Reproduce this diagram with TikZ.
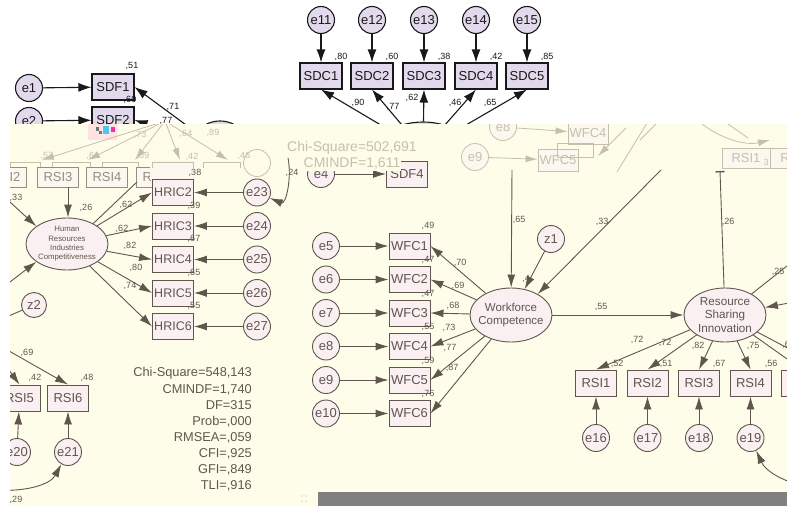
\documentclass[tikz,border=0pt]{standalone}
\usepackage{fontspec}
\setmainfont{Liberation Sans}
\usetikzlibrary{arrows.meta,shapes.geometric}
\definecolor{cream}{RGB}{254,253,234}
\definecolor{dk}{RGB}{96,86,78}
\definecolor{pk}{RGB}{250,240,242}
\definecolor{lav}{RGB}{226,218,236}
\definecolor{ink}{RGB}{25,25,25}
\definecolor{fd}{RGB}{200,190,172}
\definecolor{fdfill}{RGB}{252,248,240}
\definecolor{md}{RGB}{150,140,128}
\definecolor{barg}{RGB}{128,128,128}
\tikzset{
  fs/.style={font={\fontsize{#1}{#1}\selectfont}},
  tcirc/.style={circle,draw=ink,fill=lav,line width=1.1pt,minimum size=27pt,inner sep=0pt,text=ink,fs=13},
  tbox/.style={rectangle,draw=ink,fill=lav,line width=1.1pt,minimum width=42pt,minimum height=26pt,inner sep=0pt,text=ink,fs=13},
  tell/.style={ellipse,draw=ink,fill=lav,line width=1.1pt,inner sep=0pt},
  tarr/.style={draw=ink,line width=1.1pt,-{Latex[length=13pt,width=9pt]}},
  tlab/.style={fs=9,inner sep=0pt,text=ink},
  bcirc/.style={circle,draw=dk,fill=pk,line width=0.9pt,minimum size=27pt,inner sep=0pt,text=dk,fs=13},
  bbox/.style={rectangle,draw=dk,fill=pk,line width=0.9pt,minimum width=41pt,minimum height=26pt,inner sep=0pt,text=dk,fs=13},
  bell/.style={ellipse,draw=dk,fill=pk,line width=0.9pt,inner sep=0pt},
  barr/.style={draw=dk,line width=0.9pt,-{Latex[length=13pt,width=8pt]}},
  bline/.style={draw=dk,line width=0.9pt},
  blab/.style={fs=9,inner sep=0pt,text=dk},
  mbox/.style={rectangle,draw=md,fill=fdfill,line width=0.8pt,minimum width=41pt,minimum height=20pt,inner sep=0pt,text=md,fs=13},
  fcirc/.style={circle,draw=fd,fill=fdfill,line width=0.8pt,minimum size=27pt,inner sep=0pt,text=fd,fs=13},
  fbox/.style={rectangle,draw=fd,fill=fdfill,line width=0.8pt,minimum width=40pt,minimum height=22pt,inner sep=0pt,text=fd,fs=13},
  farr/.style={draw=fd,line width=0.8pt,-{Latex[length=12pt,width=7pt]}},
  fline/.style={draw=fd,line width=0.8pt},
  flab/.style={fs=9,inner sep=0pt,text=fd},
  chitxt/.style={fs=14,inner sep=1pt,text=fd,fill=cream},
}
\begin{document}
\begin{tikzpicture}[x=1pt,y=-1pt]
\useasboundingbox (0,0) rectangle (787,506);
\fill[white] (0,0) rectangle (787,506);
% ---------------- top (white) diagram ----------------
\node[tell,minimum width=60pt,minimum height=58pt] (sdf) at (220,150) {};
\node[tcirc] (e1) at (29,88) {e1};
\node[tcirc] (e2) at (29,121) {e2};
\node[tbox] (sdf1) at (113,87) {SDF1};
\node[tbox] (sdf2) at (113,120) {SDF2};
\draw[tarr] (e1) -- (sdf1);
\draw[tarr] (e2) -- (sdf2);
\draw[tarr] (sdf) -- (sdf1.east);
\draw[tarr] (sdf) -- (sdf2.east);
\node[tlab] (t51) at (132,66) {,51};
\node[tlab] (t60a) at (130,100) {,60};
\node[tlab] (t71) at (173,107) {,71};
\node[tlab] (t77a) at (166,121) {,77};
\node[tell,minimum width=92pt,minimum height=56pt] (sdc) at (423,150) {};
\foreach \i/\x in {1/321,2/372,3/424,4/476,5/527}{
  \node[tcirc] (e1\i) at (\x,20) {e1\i};
  \node[tbox] (sdc\i) at (\x,76) {SDC\i};
  \draw[tarr] (e1\i) -- (sdc\i);
  \draw[tarr] (sdc) -- (sdc\i.south);
}
\node[tlab] (r80) at (341,57) {,80};
\node[tlab] (r60) at (392,57) {,60};
\node[tlab] (r38) at (444,57) {,38};
\node[tlab] (r42) at (496,57) {,42};
\node[tlab] (r85) at (547,57) {,85};
\node[tlab] (w90) at (358,103) {,90};
\node[tlab] (w77) at (393,107) {,77};
\node[tlab] (w62) at (412,98) {,62};
\node[tlab] (w46) at (455,103) {,46};
\node[tlab] (w65) at (490,103) {,65};
% ---------------- cream overlay ----------------
\fill[cream] (10,124) rectangle (787,506);
\fill[pink!45] (88,124) rectangle (117,140);
\fill[cyan!70] (103,126) rectangle (109,134);
\fill[magenta!80] (111,127) rectangle (115,132);
\fill[black!55] (96,127) rectangle (99,131);
\fill[black!55] (99,131) rectangle (102,134);
\begin{scope}
\clip (10,124) rectangle (787,506);
% ----- faded band, left -----
\coordinate (fo) at (165,121);
\foreach \n/\x in {a/42,b/88,c/135,d/180,e/228}{
  \coordinate (ft\n) at (\x,160);
  \draw[farr] (fo) -- (ft\n);
}
\node[flab] (f73) at (140,135) {,73};
\node[flab] (f64) at (186,134) {,64};
\node[flab] (f89) at (213,133) {,89};
\node[flab] (f57) at (47,156) {,57};
\node[flab] (f61) at (93,156) {,61};
\node[flab] (f59) at (143,156) {,59};
\node[flab] (f42) at (192,157) {,42};
\node[flab] (f46) at (244,156) {,46};
\foreach \n/\a/\b in {a/10/40,b/52/90,c/102/138,e/203/240}{
  \draw[fline] (\a,168) -- (\a,162) -- (\b,162) -- (\b,168);
}
\node[mbox] (mi2) at (6,177) {RSI2};
\node[mbox] (mrsi3) at (58,177) {RSI3};
\node[mbox] (mrsi4) at (107,177) {RSI4};
\node[mbox] (mrsi5) at (157,177) {RSI5};
\fill[fdfill] (150,161) rectangle (195,180);
\draw[fline] (152,168) -- (152,162) -- (193,162) -- (193,168);
\node[fcirc,fill=none] (fe22) at (257,163) {};
% ----- faded band, middle -----
\node[bcirc] (e4) at (321,174) {e4};
\node[bbox] (sdf4) at (407,174) {SDF4};
\draw[barr] (e4) -- (sdf4);
\node[chitxt] (chi2) at (352,148) {Chi-Square=502,691};
\node[chitxt] (cmin2) at (352,164) {CMINDF=1,611};
\node[fcirc] (fe8) at (503,127) {e8};
\node[fbox] (fwfc4) at (588,133) {WFC4};
\draw[farr] (fe8) -- (fwfc4);
\node[fcirc] (fe9) at (475,157) {e9};
\node[fbox] (fwfc5) at (558,160) {WFC5};
\node[fbox,fill=none,minimum width=36pt,minimum height=14pt] (fwx) at (575,150) {};
\draw[farr] (fe9) -- (fwfc5);
\coordinate (fl1a) at (647,123); \coordinate (fl1b) at (617,172);
\draw[fline] (fl1a) -- (fl1b);
\coordinate (fl2a) at (657,123); \coordinate (fl2b) at (640,140);
\draw[fline] (fl2a) -- (fl2b);
\coordinate (fq1) at (626,128); \coordinate (fq2) at (598,156);
\draw[farr] (fq1) -- (fq2);
% ----- faded band, right -----
\coordinate (fa1) at (702,124); \coordinate (fa2) at (770,140);
\draw[farr] (fa1) .. controls (720,138) and (745,146) .. (fa2);
\coordinate (fa3) at (728,124); \coordinate (fa4) at (748,138);
\draw[fline] (fa3) -- (fa4);
\node[fbox,minimum width=48pt,minimum height=20pt] (frsi13) at (746,158) {RSI1};
\node[flab] (f3) at (766,162) {3};
\node[fbox,minimum width=30pt,minimum height=20pt] (frsir) at (785,158) {R};
% ---------------- lower diagram ----------------
\node[bell,minimum width=82pt,minimum height=52pt] (hri) at (67,244) {};
\node[text=dk,align=center,inner sep=0pt,font={\fontsize{7.8}{9.3}\selectfont}] (hrit) at (hri) {Human\\Resources\\Industries\\Competitiveness};
\coordinate (a26) at (68,187);
\draw[barr] (a26) -- (a26 |- hri.north);
\node[blab] (l26a) at (86,208) {,26};
\coordinate (lh1) at (-3,190);
\draw[barr] (lh1) -- (hri.150);
\node[blab] (l33a) at (16,198) {,33};
\coordinate (lh2) at (-3,292);
\draw[barr] (lh2) -- (hri.210);
\node[bcirc,minimum size=25pt] (z2) at (34,305) {z2};
\coordinate (lz2) at (-5,322);
\draw[bline] (z2) -- (lz2);
\coordinate (l5) at (137,182);
\draw[bline] (hri.38) -- (l5);
\foreach \i/\y/\e in {2/192.5/23,3/226/24,4/259.5/25,5/293/26,6/326.5/27}{
  \node[bbox,fs=12.5] (hric\i) at (173,\y) {HRIC\i};
  \node[bcirc] (e\e) at (257,\y) {e\e};
  \draw[barr] (e\e) -- (hric\i);
  \draw[barr] (hri) -- (hric\i.west);
}
\node[blab] (h62a) at (126,205) {,62};
\node[blab] (h62b) at (122,229) {,62};
\node[blab] (h82) at (130,246) {,82};
\node[blab] (h80) at (136,268) {,80};
\node[blab] (h74) at (130,286) {,74};
\node[blab] (q38) at (195,173) {,38};
\node[blab] (q39) at (194,206) {,39};
\node[blab] (q67) at (194,239) {,67};
\node[blab] (q65) at (194,273) {,65};
\node[blab] (q55) at (194,306) {,55};
\node[blab] (l24) at (292,173) {,24};
\coordinate (c24) at (288,158);
\draw[barr] (c24) .. controls (292,178) and (286,205) .. (e23);
\node[bbox] (rsi5b) at (19.5,398) {RSI5};
\node[bbox] (rsi6b) at (68,398) {RSI6};
\coordinate (lr5) at (3,362);
\draw[barr] (lr5) -- (rsi5b.north);
\coordinate (lr6) at (-5,343);
\draw[barr] (lr6) -- (rsi6b.north);
\node[blab] (l69) at (27,353) {,69};
\node[blab] (l42b) at (35,378) {,42};
\node[blab] (l48) at (87,378) {,48};
\node[bcirc] (e20) at (17,452) {e20};
\node[bcirc] (e21) at (68,452) {e21};
\draw[barr] (e20) -- (rsi5b);
\draw[barr] (e21) -- (rsi6b);
\coordinate (c29) at (-5,490);
\draw[barr] (c29) .. controls (25,492) and (50,485) .. (e21);
\node[blab] (l29) at (16,500) {,29};
\node[anchor=north east,align=right,inner sep=0pt,text=dk,font={\fontsize{12.8}{16.1}\selectfont}] (fit) at (252,367.5)
  {Chi-Square=548,143\\CMINDF=1,740\\DF=315\\Prob=,000\\RMSEA=,059\\CFI=,925\\GFI=,849\\TLI=,916};
\node[bell,minimum width=82pt,minimum height=54pt] (wc) at (511,315) {};
\node[text=dk,align=center,inner sep=0pt,font={\fontsize{11.5}{13.3}\selectfont}] (wct) at (wc) {Workforce\\Competence};
\foreach \i/\y/\e in {1/246/5,2/279.5/6,3/313/7,4/346.5/8,5/380/9,6/413.5/10}{
  \node[bcirc] (e\e) at (326,\y) {e\e};
  \node[bbox] (wfc\i) at (409.5,\y) {WFC\i};
  \draw[barr] (e\e) -- (wfc\i);
  \draw[barr] (wc) -- (wfc\i.east);
}
\node[blab] (s49) at (428,226) {,49};
\node[blab] (s47a) at (428,260) {,47};
\node[blab] (s47b) at (428,294) {,47};
\node[blab] (s55) at (428,327) {,55};
\node[blab] (s59) at (428,361) {,59};
\node[blab] (s76) at (428,394) {,76};
\node[blab] (k70) at (460,263) {,70};
\node[blab] (k69) at (458,286) {,69};
\node[blab] (k68) at (453,306) {,68};
\node[blab] (k73) at (449,328) {,73};
\node[blab] (k77) at (450,348) {,77};
\node[blab] (k87) at (452,368) {,87};
\coordinate (c65) at (512,170);
\draw[barr] (c65) -- (wc);
\node[blab] (l65) at (519,220) {,65};
\node[bcirc] (z1) at (551,239) {z1};
\draw[barr] (z1) -- (wc);
\node[blab] (l4) at (526,279) {,4};
\coordinate (c33) at (661,170);
\draw[barr] (c33) -- (wc.38);
\node[blab] (l33b) at (602,222) {,33};
\node[bell,minimum width=82pt,minimum height=54pt] (rsi) at (725,315) {};
\node[text=dk,align=center,inner sep=0pt,font={\fontsize{11.7}{13.3}\selectfont}] (rsit) at (rsi) {Resource\\Sharing\\Innovation};
\draw[barr] (wc) -- (rsi);
\node[blab] (l55) at (601,307) {,55};
\coordinate (c26) at (720,171);
\draw[bline,-{Bar[width=9pt,line width=1.4pt]}] (rsi) -- (c26);
\node[blab] (l26b) at (728,222) {,26};
\coordinate (c25) at (792,262);
\draw[bline] (rsi) -- (c25);
\node[blab] (l25) at (778,272) {,25};
\coordinate (crr) at (805,300);
\draw[barr] (crr) -- (rsi);
\coordinate (cr2) at (795,352);
\draw[bline] (rsi) -- (cr2);
\foreach \i/\x/\e in {1/596/16,2/647.5/17,3/699/18,4/750.5/19}{
  \node[bbox] (rsi\i) at (\x,383) {RSI\i};
  \node[bcirc] (e\e) at (\x,438) {e\e};
  \draw[barr] (e\e) -- (rsi\i);
  \draw[barr] (rsi) -- (rsi\i.north);
}
\node[bbox] (rsi5) at (802,383) {RSI5};
\draw[barr] (rsi) -- (rsi5.north);
\node[blab] (m72a) at (637,340) {,72};
\node[blab] (m72b) at (665,343) {,72};
\node[blab] (m82) at (698,346) {,82};
\node[blab] (m75) at (753,346) {,75};
\node[blab] (m6) at (786,345) {,6};
\node[blab] (n52) at (617,364) {,52};
\node[blab] (n51) at (666,364) {,51};
\node[blab] (n67) at (719,364) {,67};
\node[blab] (n56) at (771,364) {,56};
\coordinate (c19) at (800,485);
\draw[barr] (c19) .. controls (780,480) and (765,470) .. (e19);
\end{scope}
\fill[barg] (318,492) rectangle (787,506);
\foreach \px/\py in {302/496,306/496,302/501,306/501}{\fill[black!35] (\px,\py) circle (0.7);}
\end{tikzpicture}
\end{document}
